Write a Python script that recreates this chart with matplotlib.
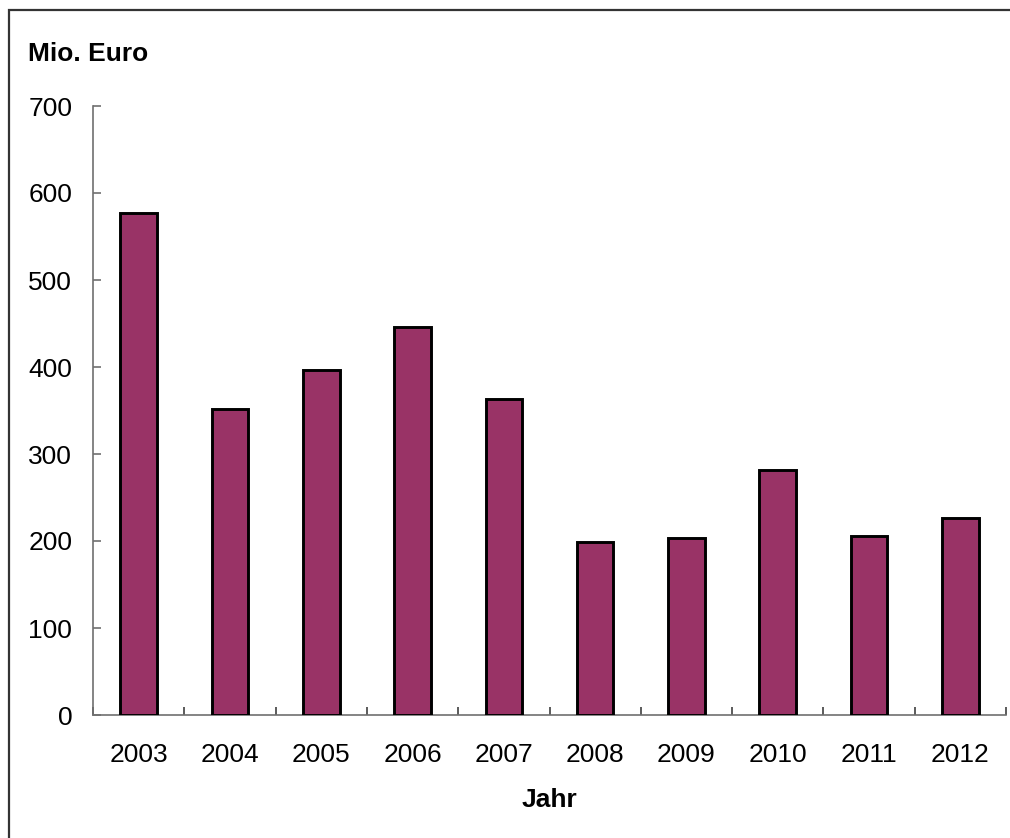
import matplotlib.pyplot as plt
from matplotlib.patches import Rectangle
import numpy as np

plt.rcParams['font.family'] = ['Liberation Sans', 'DejaVu Sans']

# Werte in Mio. Euro pro Jahr
jahre = ['2003', '2004', '2005', '2006', '2007', '2008', '2009', '2010', '2011', '2012']
werte = [577, 352, 397, 446, 363, 199, 204, 282, 206, 226]
y_ticks = [0, 100, 200, 300, 400, 500, 600, 700]

W, H = 1010, 838
fig = plt.figure(figsize=(W / 100, H / 100), dpi=100)
ax = fig.add_axes([93 / W, (H - 715) / H, 913 / W, 609 / H])

x = np.arange(len(jahre))
ax.bar(x, werte, width=0.4, color='#993366', edgecolor='black', linewidth=2.1, zorder=3)

ax.set_xlim(-0.5, len(jahre) - 0.5)
ax.set_ylim(0, 700)
ax.set_yticks(y_ticks)
ax.set_xticks(x)
ax.set_xticklabels(jahre)
ax.set_xticks(np.arange(-0.5, len(jahre)), minor=True)

for s in ['top', 'right']:
    ax.spines[s].set_visible(False)
for s in ['left', 'bottom']:
    ax.spines[s].set_color('#707070')
    ax.spines[s].set_linewidth(1.2)

ax.tick_params(axis='y', direction='in', length=6, width=1.2, color='#707070',
               labelsize=19, pad=15)
ax.tick_params(axis='x', which='major', length=0, labelsize=19, pad=20)
ax.tick_params(axis='x', which='minor', direction='in', length=6, width=1.2, color='#404040')

fig.text(28 / W, 1 - 54 / H, 'Mio. Euro', fontsize=19, fontweight='bold', va='center', ha='left')
fig.text(549.5 / W, 1 - 800 / H, 'Jahr', fontsize=19, fontweight='bold', va='center', ha='center')

# Rahmen um die Grafik
fig.patches.append(Rectangle((9 / W, -0.1), 1.2, 1.1 - 10 / H, transform=fig.transFigure,
                             fill=False, edgecolor='#333333', linewidth=1.6))

fig.savefig('out.png', dpi=100)
